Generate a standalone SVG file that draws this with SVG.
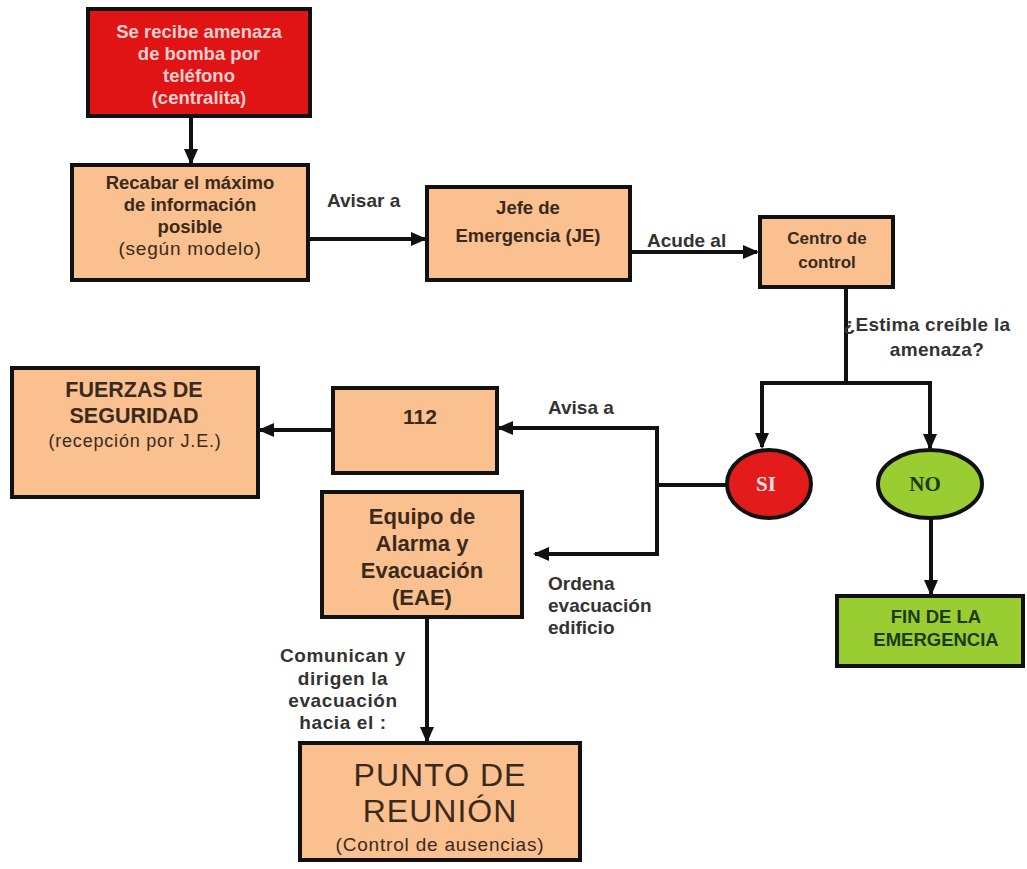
<svg xmlns="http://www.w3.org/2000/svg" width="1027" height="869" viewBox="0 0 1027 869">
<style>
.box{fill:#fac090;stroke:#111;stroke-width:4}
.red{fill:#e01414;stroke:#111;stroke-width:4}
.grn{fill:#9acd32;stroke:#111;stroke-width:4}
.t{font-family:"Liberation Sans",Arial,sans-serif;font-weight:bold;fill:#3a2a1c;text-anchor:middle}
.n{font-family:"Liberation Sans",Arial,sans-serif;fill:#3a2a1c;text-anchor:middle}
.lbl{font-family:"Liberation Sans",Arial,sans-serif;font-weight:bold;fill:#333;font-size:19px}
.c{fill:none;stroke:#111;stroke-width:4}
.s{font-family:"Liberation Serif","Times New Roman",serif;font-weight:bold;text-anchor:middle}
</style>
<defs>
<marker id="ah" markerUnits="userSpaceOnUse" markerWidth="16" markerHeight="14" refX="14" refY="7" orient="auto">
<path d="M0,0 L16,7 L0,14 Z" fill="#111"/>
</marker>
</defs>
<g id="connectors">
<path class="c" d="M191 117 V163" marker-end="url(#ah)"/>
<path class="c" d="M308 239 H425" marker-end="url(#ah)"/>
<path class="c" d="M632 252 H757" marker-end="url(#ah)"/>
<path class="c" d="M846 287 V383 M760 383 H932"/>
<path class="c" d="M762 381 V447" marker-end="url(#ah)"/>
<path class="c" d="M930 381 V448" marker-end="url(#ah)"/>
<path class="c" d="M931 518 V594" marker-end="url(#ah)"/>
<path class="c" d="M727 485 H657 M657 426 V556"/>
<path class="c" d="M659 428 H499" marker-end="url(#ah)"/>
<path class="c" d="M659 554 H535" marker-end="url(#ah)"/>
<path class="c" d="M333 430 H260" marker-end="url(#ah)"/>
<path class="c" d="M427 617 V741" marker-end="url(#ah)"/>
<text class="lbl" x="327" y="207">Avisar a</text>
<text class="lbl" x="647" y="247">Acude al</text>
<text class="lbl" x="927" y="331" text-anchor="middle" letter-spacing="0.3">¿Estima creíble la</text>
<text class="lbl" x="937" y="356" text-anchor="middle" letter-spacing="0.3">amenaza?</text>
<text class="lbl" x="548" y="414">Avisa a</text>
<text class="lbl" x="548" y="590">Ordena</text>
<text class="lbl" x="548" y="612">evacuación</text>
<text class="lbl" x="548" y="634">edificio</text>
<text class="lbl" x="343" y="662" text-anchor="middle" font-size="18" letter-spacing="0.6">Comunican  y</text>
<text class="lbl" x="343" y="685" text-anchor="middle" font-size="18" letter-spacing="0.6">dirigen  la</text>
<text class="lbl" x="343" y="707" text-anchor="middle" font-size="18" letter-spacing="0.6">evacuación</text>
<text class="lbl" x="343" y="729" text-anchor="middle" font-size="18" letter-spacing="0.6">hacia el :</text>
</g>
<g id="n-amenaza">
<rect class="red" x="88" y="9" width="222" height="107"/>
<text class="t" style="fill:#f6d0d0;font-size:18.5px" x="199" y="38">Se recibe amenaza</text>
<text class="t" style="fill:#f6d0d0;font-size:18.5px" x="199" y="60">de bomba por</text>
<text class="t" style="fill:#f6d0d0;font-size:18.5px" x="199" y="82">teléfono</text>
<text class="t" style="fill:#f6d0d0;font-size:18.5px" x="199" y="104">(centralita)</text>
</g>
<g id="n-recabar">
<rect class="box" x="72" y="165" width="236" height="115"/>
<text class="t" font-size="18.5" x="190" y="189">Recabar el máximo</text>
<text class="t" font-size="18.5" x="190" y="211">de información</text>
<text class="t" font-size="18.5" x="190" y="233">posible</text>
<text class="n" font-size="19" x="190" y="255" letter-spacing="0.8">(según modelo)</text>
</g>
<g id="n-jefe">
<rect class="box" x="427" y="187" width="203" height="93"/>
<text class="t" font-size="18.5" x="528" y="214">Jefe de</text>
<text class="t" font-size="18.5" x="528" y="242">Emergencia (JE)</text>
</g>
<g id="n-centro">
<rect class="box" x="760" y="217" width="133" height="70"/>
<text class="t" font-size="17" x="827" y="244">Centro de</text>
<text class="t" font-size="17" x="827" y="268">control</text>
</g>
<g id="n-si">
<ellipse cx="769" cy="484" rx="42" ry="34" fill="#e31b1b" stroke="#111" stroke-width="4"/>
<text class="s" font-size="21" x="766" y="491" fill="#f6e0e0">SI</text>
</g>
<g id="n-no">
<ellipse cx="930" cy="484" rx="52" ry="34" fill="#9acd32" stroke="#111" stroke-width="4"/>
<text class="s" font-size="21" x="925" y="491" fill="#1c3a10">NO</text>
</g>
<g id="n-fin">
<rect class="grn" x="837" y="596" width="186" height="70"/>
<text class="t" font-size="18.5" x="936" y="623" style="fill:#1c3a10">FIN DE LA</text>
<text class="t" font-size="18.5" x="936" y="646" style="fill:#1c3a10">EMERGENCIA</text>
</g>
<g id="n-112">
<rect class="box" x="333" y="388" width="164" height="85"/>
<text class="t" font-size="21" x="420" y="424">112</text>
</g>
<g id="n-fuerzas">
<rect class="box" x="12" y="368" width="246" height="129"/>
<text class="t" font-size="21.5" x="134" y="397">FUERZAS DE</text>
<text class="t" font-size="21.5" x="134" y="423">SEGURIDAD</text>
<text class="n" font-size="18" x="135" y="447" letter-spacing="0.8">(recepción por J.E.)</text>
</g>
<g id="n-eae">
<rect class="box" x="322" y="492" width="200" height="125"/>
<text class="t" font-size="22" x="422" y="524">Equipo de</text>
<text class="t" font-size="22" x="422" y="551">Alarma y</text>
<text class="t" font-size="22" x="422" y="578">Evacuación</text>
<text class="t" font-size="22" x="422" y="605">(EAE)</text>
</g>
<g id="n-punto">
<rect class="box" x="300" y="743" width="280" height="117"/>
<text class="n" font-size="32" x="440" y="786" letter-spacing="1">PUNTO DE</text>
<text class="n" font-size="32" x="440" y="822" letter-spacing="1">REUNIÓN</text>
<text class="n" font-size="19" x="440" y="851" letter-spacing="0.8">(Control de ausencias)</text>
</g>
</svg>
